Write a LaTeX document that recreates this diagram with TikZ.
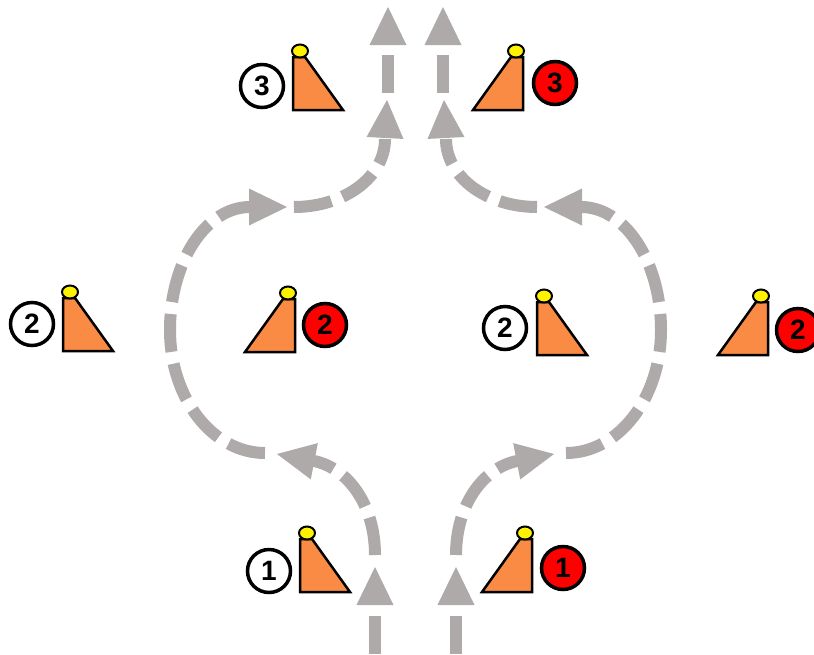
\documentclass[tikz,border=0pt]{standalone}
\usepackage{fontspec}
\setmainfont{Liberation Sans}
\usetikzlibrary{shapes.geometric}
\definecolor{cgray}{HTML}{ADAAA9}
\definecolor{corange}{HTML}{FA8B45}
\tikzset{
  flow/.style={draw=cgray, line width=12pt, dash pattern=on 38pt off 12pt},
  ahead/.pic={\fill[cgray] (0,0) -- (-38,18.5) -- (-38,-18.5) -- cycle;},
  conebody/.style={draw=black, line width=2.5pt, fill=corange},
  conetip/.style={ellipse, draw=black, line width=2pt, fill=yellow, minimum width=16pt, minimum height=13pt, inner sep=0pt},
  numw/.style={circle, draw=black, line width=3.5pt, fill=white, minimum size=43pt, inner sep=0pt, font=\fontsize{28}{28}\selectfont\bfseries},
  numr/.style={numw, fill=red},
}
% white cone: #1 name, (#2,#3) bottom-left corner, (#4,#5) circle centre, #6 number
\newcommand\wcone[6]{%
  \draw[conebody] (#2,#3) -- (#2,#3-53) -- (#2+12,#3-53) -- (#2+50,#3) -- cycle;
  \node[conetip] (#1t) at (#2+7,#3-59) {};
  \node[numw] (#1) at (#4,#5) {#6};
}
% red cone: #1 name, (#2,#3) bottom-right corner, (#4,#5) circle centre, #6 number
\newcommand\rcone[6]{%
  \draw[conebody] (#2,#3) -- (#2,#3-53) -- (#2-12,#3-53) -- (#2-50,#3) -- cycle;
  \node[conetip] (#1t) at (#2-7,#3-59) {};
  \node[numr] (#1) at (#4,#5) {#6};
}
\begin{document}
\begin{tikzpicture}[x=1pt,y=-1pt]
\useasboundingbox (0,0) rectangle (814,654);

% ---------- left flow ----------
\coordinate (L1s) at (375,654); \coordinate (L1e) at (375,605); \coordinate (L1h) at (375,567);
\coordinate (L2s) at (375,555); \coordinate (L2e) at (314,461); \coordinate (L2h) at (277,454);
\coordinate (L3s) at (265,453); \coordinate (L3m) at (170,330); \coordinate (L3e) at (250,207); \coordinate (L3h) at (287,207);
\coordinate (L4s) at (294,207); \coordinate (L4e) at (385,139); \coordinate (L4h) at (387,100);
\coordinate (L5s) at (388,93);  \coordinate (L5e) at (388,45);  \coordinate (L5h) at (388,7);

\draw[flow] (L1s) -- (L1e);
\draw[flow] (L2s) .. controls (375,505) and (348,468) .. (L2e);
\draw[flow] (L3s) .. controls (212.5,453) and (170,398) .. (L3m) .. controls (170,262) and (205.8,207) .. (L3e);
\draw[flow] (L4s) .. controls (344.3,207) and (385,177) .. (L4e);
\draw[flow] (L5s) -- (L5e);
\pic[rotate=90]  at (L1h) {ahead};
\pic[rotate=169] at (L2h) {ahead};
\pic[rotate=0]   at (L3h) {ahead};
\pic[rotate=87]  at (L4h) {ahead};
\pic[rotate=90]  at (L5h) {ahead};

% ---------- right flow ----------
\coordinate (R1s) at (456,654); \coordinate (R1e) at (456,605); \coordinate (R1h) at (456,567);
\coordinate (R2s) at (456,555); \coordinate (R2e) at (517,461); \coordinate (R2h) at (554,454);
\coordinate (R3s) at (566,453); \coordinate (R3m) at (661,330); \coordinate (R3e) at (581,207); \coordinate (R3h) at (544,207);
\coordinate (R4s) at (537,207); \coordinate (R4e) at (446,139); \coordinate (R4h) at (444,100);
\coordinate (R5s) at (443,93);  \coordinate (R5e) at (443,45);  \coordinate (R5h) at (443,7);

\draw[flow] (R1s) -- (R1e);
\draw[flow] (R2s) .. controls (456,505) and (483,468) .. (R2e);
\draw[flow] (R3s) .. controls (618.5,453) and (661,398) .. (R3m) .. controls (661,262) and (625.2,207) .. (R3e);
\draw[flow] (R4s) .. controls (486.7,207) and (446,177) .. (R4e);
\draw[flow] (R5s) -- (R5e);
\pic[rotate=90]  at (R1h) {ahead};
\pic[rotate=11]  at (R2h) {ahead};
\pic[rotate=180] at (R3h) {ahead};
\pic[rotate=93]  at (R4h) {ahead};
\pic[rotate=90]  at (R5h) {ahead};

% ---------- cones ----------
\wcone{w3}{293}{110}{262}{86}{3}
\rcone{r3}{523}{110}{555}{83}{3}
\wcone{w2a}{63}{351}{32}{324}{2}
\rcone{r2a}{295}{352}{325}{325}{2}
\wcone{w2b}{537}{355}{505}{328}{2}
\rcone{r2b}{768}{355}{798}{330}{2}
\wcone{w1}{300}{592}{269}{571}{1}
\rcone{r1}{532}{592}{563}{568}{1}
\end{tikzpicture}
\end{document}
